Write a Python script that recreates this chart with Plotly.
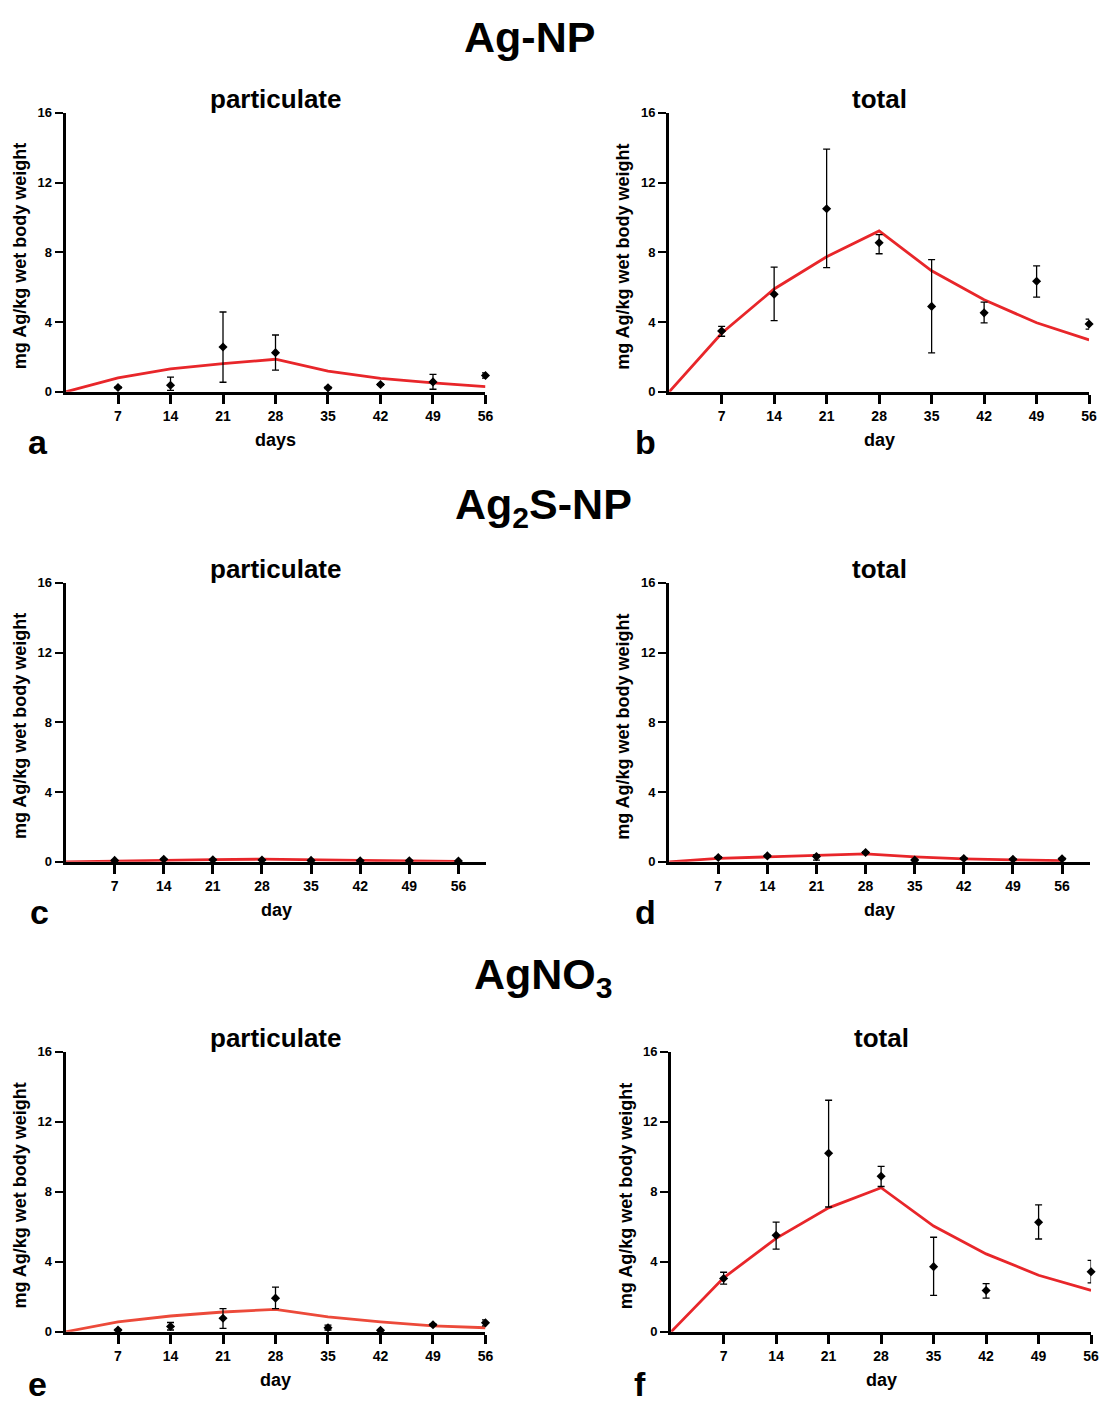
import plotly.graph_objects as go

# Sampling days (weeks 1-8) and model days (including day 0)
days = [7, 14, 21, 28, 35, 42, 49, 56]
model_days = [0, 7, 14, 21, 28, 35, 42, 49, 56]

# Ag-NP, particulate (a)
a_mean = [0.25, 0.38, 2.57, 2.25, 0.23, 0.42, 0.57, 0.94]
a_up = [0.05, 0.47, 2.01, 1.01, 0.05, 0.05, 0.43, 0.15]
a_down = [0.05, 0.3, 2.02, 1.0, 0.05, 0.05, 0.42, 0.15]
a_model = [0, 0.8, 1.32, 1.62, 1.87, 1.19, 0.77, 0.51, 0.30]

# Ag-NP, total (b)
b_mean = [3.49, 5.6, 10.5, 8.55, 4.9, 4.53, 6.34, 3.89]
b_up = [0.26, 1.55, 3.42, 0.47, 2.68, 0.62, 0.89, 0.28]
b_down = [0.3, 1.51, 3.37, 0.63, 2.67, 0.57, 0.91, 0.29]
b_model = [0, 3.36, 5.9, 7.75, 9.23, 6.94, 5.28, 3.96, 2.98]

# Ag2S-NP, particulate (c)
c_mean = [0.08, 0.15, 0.12, 0.1, 0.08, 0.06, 0.06, 0.05]
c_up = [0.02, 0.02, 0.02, 0.02, 0.02, 0.02, 0.02, 0.02]
c_down = [0.02, 0.02, 0.02, 0.02, 0.02, 0.02, 0.02, 0.02]
c_model = [0, 0.05, 0.1, 0.13, 0.15, 0.1, 0.08, 0.05, 0.03]

# Ag2S-NP, total (d)
d_mean = [0.25, 0.34, 0.3, 0.53, 0.1, 0.19, 0.15, 0.17]
d_up = [0.04, 0.04, 0.1, 0.05, 0.04, 0.04, 0.03, 0.04]
d_down = [0.04, 0.04, 0.2, 0.05, 0.04, 0.04, 0.03, 0.04]
d_model = [0, 0.2, 0.28, 0.38, 0.45, 0.28, 0.17, 0.11, 0.06]

# AgNO3, particulate (e)
e_mean = [0.1, 0.3, 0.77, 1.92, 0.23, 0.08, 0.4, 0.51]
e_up = [0.04, 0.23, 0.55, 0.63, 0.15, 0.03, 0.05, 0.17]
e_down = [0.04, 0.2, 0.58, 0.6, 0.13, 0.03, 0.05, 0.17]
e_model = [0, 0.57, 0.9, 1.13, 1.28, 0.85, 0.57, 0.34, 0.23]

# AgNO3, total (f)
f_mean = [3.04, 5.51, 10.2, 8.89, 3.72, 2.36, 6.26, 3.43]
f_up = [0.36, 0.75, 3.03, 0.56, 1.68, 0.39, 0.99, 0.65]
f_down = [0.32, 0.79, 3.07, 0.59, 1.64, 0.44, 0.96, 0.64]
f_model = [0, 3.08, 5.34, 7.08, 8.23, 6.04, 4.45, 3.23, 2.36]

y_ticks = [0, 4, 8, 12, 16]
y_title = "mg Ag/kg wet body weight"

W, H = 1112, 1410
FONT = "Liberation Sans, Arial, sans-serif"

# panel: (letter, letter pos, mean, up, down, model, x px span, y px span, x max, line colour, x title)
panels = [
    ("a", (38, 440), a_mean, a_up, a_down, a_model, (66, 489), (107, 389), 56, "#e8262a", "days"),
    ("b", (650, 440), b_mean, b_up, b_down, b_model, (674, 1097), (107, 389), 56, "#e8262a", "day"),
    ("c", (40, 915), c_mean, c_up, c_down, c_model, (66, 490), (582, 864), 60, "#e8262a", "day"),
    ("d", (650, 915), d_mean, d_up, d_down, d_model, (674, 1098), (582, 864), 60, "#e8262a", "day"),
    ("e", (38, 1392), e_mean, e_up, e_down, e_model, (66, 489), (1056, 1339), 56, "#ec4a3a", "day"),
    ("f", (645, 1392), f_mean, f_up, f_down, f_model, (676, 1099), (1056, 1339), 56, "#e8262a", "day"),
]
sub_titles = ["particulate", "total", "particulate", "total", "particulate", "total"]

fig = go.Figure()
annotations = []


def label(text, xpx, ypx, size, angle=0):
    return dict(
        text=text, x=xpx / W, y=1 - ypx / H, xref="paper", yref="paper",
        xanchor="center", yanchor="middle", showarrow=False, textangle=angle,
        font=dict(family=FONT, size=size, color="black", weight="bold"),
    )


for i, (letter, lpos, mean, up, down, model, (x0, x1), (y0, y1), xmax, lc, xt) in enumerate(panels, start=1):
    xa = "x" if i == 1 else f"x{i}"
    ya = "y" if i == 1 else f"y{i}"
    fig.add_trace(go.Scatter(
        x=model_days, y=model, mode="lines",
        line=dict(color=lc, width=2.8),
        xaxis=xa, yaxis=ya, showlegend=False, cliponaxis=False,
    ))
    fig.add_trace(go.Scatter(
        x=days, y=mean, mode="markers",
        marker=dict(symbol="diamond", size=7, color="black"),
        error_y=dict(type="data", symmetric=False, array=up, arrayminus=down,
                     color="black", thickness=1.3, width=3.5),
        xaxis=xa, yaxis=ya, showlegend=False, cliponaxis=False,
    ))
    axis_common = dict(
        showline=True, linecolor="black", linewidth=3,
        ticks="outside", tickcolor="black",
        showgrid=False, zeroline=False,
    )
    fig.layout[f"xaxis{'' if i == 1 else i}"] = dict(
        axis_common, domain=[x0 / W, x1 / W], range=[0, xmax],
        tickvals=days, ticklen=9, tickwidth=3, anchor=ya,
        tickfont=dict(family=FONT, size=14, color="black", weight="bold"),
    )
    fig.layout[f"yaxis{'' if i == 1 else i}"] = dict(
        axis_common, domain=[1 - y1 / H, 1 - y0 / H], range=[0, 16],
        tickvals=y_ticks, ticklen=8, tickwidth=1.5, anchor=xa,
        tickfont=dict(family=FONT, size=13, color="black", weight="bold"),
    )
    xc = (x0 + x1) / 2
    annotations.append(label(sub_titles[i - 1], xc, y0 - 14, 26))
    annotations.append(label(xt, xc, y1 + 49, 18))
    annotations.append(label(y_title, x0 - 46, (y0 + y1) / 2 + 4, 18, -90))
    annotations.append(label(letter, lpos[0], lpos[1], 34))

# row headings
for text, xc, yc in [("Ag-NP", 533, 30), ("Ag<sub>2</sub>S-NP", 547, 505), ("AgNO<sub>3</sub>", 547, 980)]:
    annotations.append(label(text, xc, yc, 43))

fig.update_layout(
    width=W, height=H, margin=dict(l=0, r=0, t=0, b=0),
    paper_bgcolor="white", plot_bgcolor="white",
    annotations=annotations,
)

fig.write_html("out.html")
